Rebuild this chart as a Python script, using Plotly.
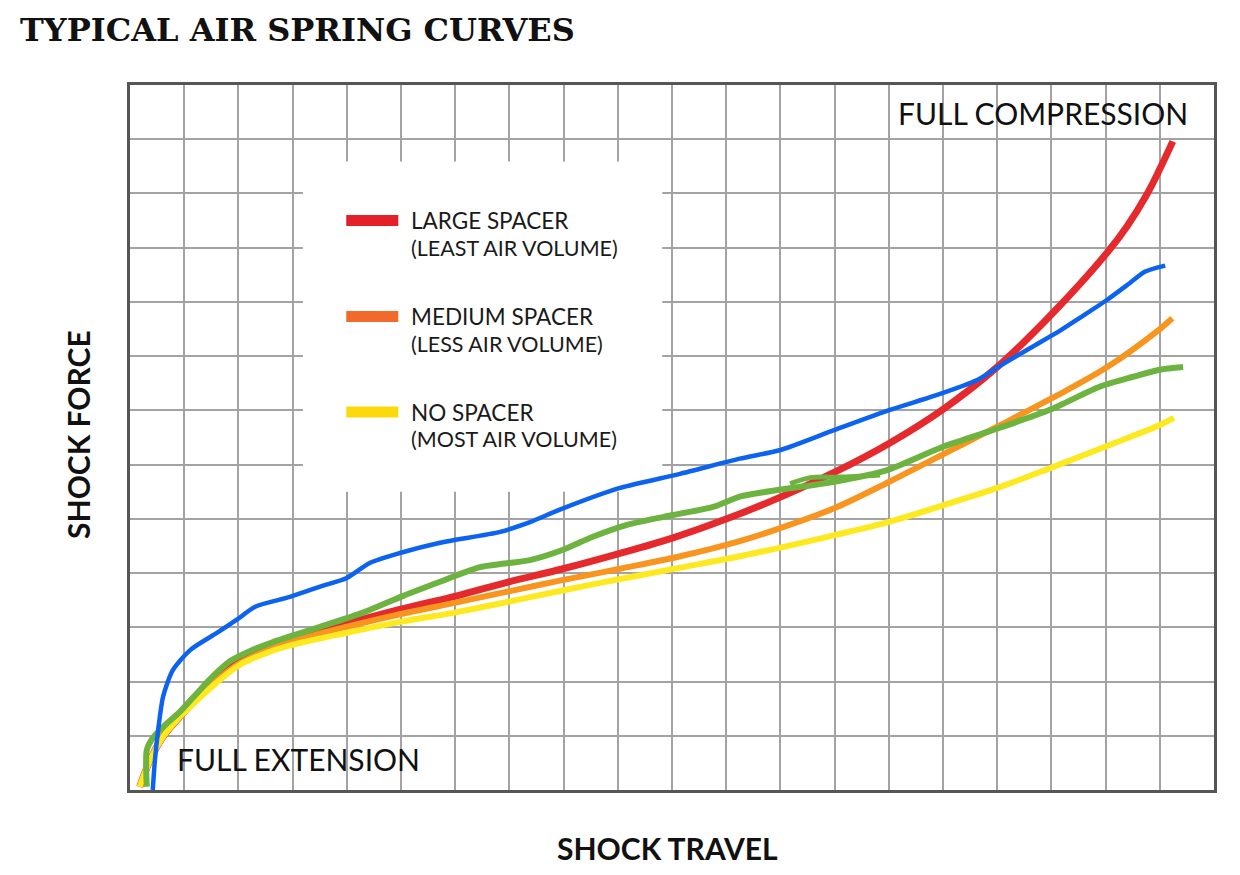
import plotly.graph_objects as go

# Data in grid units (x: shock travel 0-20, y: shock force 0-13)
red_x = [0.18, 0.37, 0.61, 0.92, 1.24, 1.61, 2.03, 2.58, 3.01, 4.00, 4.98, 6.03, 6.96, 7.99, 8.99, 10.02, 11.01, 12.0, 13.0, 14.02, 15.0, 16.0, 17.03, 18.03, 18.4, 18.76, 19.0, 19.24]
red_y = [0.06, 0.55, 0.98, 1.35, 1.70, 2.05, 2.38, 2.64, 2.80, 3.07, 3.33, 3.58, 3.83, 4.08, 4.35, 4.65, 5.00, 5.40, 5.86, 6.40, 7.02, 7.80, 8.80, 9.91, 10.40, 10.98, 11.45, 11.96]

orange_x = [0.18, 0.37, 0.61, 0.92, 1.24, 1.61, 2.03, 2.58, 3.01, 4.00, 4.98, 6.03, 6.83, 7.93, 9.04, 10.15, 11.25, 12.0, 13.0, 14.0, 15.0, 16.0, 17.0, 18.0, 19.0, 19.23]
orange_y = [0.06, 0.55, 0.98, 1.35, 1.68, 2.03, 2.34, 2.60, 2.75, 3.01, 3.24, 3.46, 3.63, 3.86, 4.08, 4.31, 4.59, 4.83, 5.20, 5.68, 6.19, 6.70, 7.22, 7.78, 8.50, 8.70]

yellow_x = [0.18, 0.37, 0.61, 0.92, 1.24, 1.61, 2.03, 2.58, 3.01, 4.00, 4.98, 6.03, 6.83, 7.93, 9.04, 10.15, 11.25, 12.0, 13.0, 14.02, 15.0, 16.0, 16.99, 17.99, 19.0, 19.26]
yellow_y = [0.06, 0.55, 0.98, 1.35, 1.66, 1.99, 2.31, 2.55, 2.68, 2.90, 3.10, 3.28, 3.44, 3.67, 3.89, 4.10, 4.31, 4.47, 4.70, 4.95, 5.25, 5.57, 5.94, 6.33, 6.73, 6.86]

green_x = [0.31, 0.31, 0.42, 0.61, 0.92, 1.24, 1.53, 1.85, 2.21, 2.64, 3.45, 4.30, 5.04, 5.72, 6.46, 7.38, 7.99, 8.54, 9.17, 10.02, 10.76, 11.25, 12.0, 12.97, 13.97, 15.0, 16.05, 16.97, 17.90, 18.51, 19.0, 19.43]
green_y = [0.06, 0.74, 0.96, 1.16, 1.44, 1.79, 2.10, 2.38, 2.56, 2.73, 2.99, 3.27, 3.58, 3.84, 4.11, 4.24, 4.43, 4.67, 4.89, 5.07, 5.22, 5.41, 5.54, 5.68, 5.90, 6.33, 6.68, 7.01, 7.44, 7.62, 7.75, 7.80]
green_extra_x = [12.18, 12.55, 13.10, 13.84]
green_extra_y = [5.65, 5.76, 5.77, 5.81]

blue_x = [0.42, 0.46, 0.52, 0.61, 0.79, 1.11, 1.61, 1.97, 2.31, 2.95, 3.51, 4.00, 4.43, 4.98, 5.72, 6.83, 7.38, 7.93, 9.04, 10.15, 11.25, 12.0, 13.0, 14.02, 14.85, 15.63, 16.05, 16.61, 17.16, 17.53, 18.03, 18.45, 18.73, 19.10]
blue_y = [0.0, 0.55, 1.11, 1.72, 2.21, 2.58, 2.90, 3.14, 3.38, 3.56, 3.75, 3.91, 4.19, 4.37, 4.56, 4.76, 4.94, 5.17, 5.57, 5.83, 6.11, 6.27, 6.64, 7.01, 7.27, 7.56, 7.82, 8.15, 8.47, 8.71, 9.04, 9.35, 9.56, 9.67]

legend_titles = ["LARGE SPACER", "MEDIUM SPACER", "NO SPACER"]
legend_subtitles = ["(LEAST AIR VOLUME)", "(LESS AIR VOLUME)", "(MOST AIR VOLUME)"]
legend_colors = ["#e4202a", "#f26a2b", "#fcd90a"]
legend_rows_y = [10.50, 8.73, 6.97]

RED = "#e52a2d"
ORANGE = "#f7951e"
YELLOW = "#fde920"
GREEN = "#6db33f"
BLUE = "#0b63f0"

fig = go.Figure()

def add_line(x, y, color, width, shape="linear", smoothing=0.8):
    line = dict(color=color, width=width, shape=shape)
    if shape == "spline":
        line["smoothing"] = smoothing
    fig.add_trace(go.Scatter(x=x, y=y, mode="lines", line=line,
                             showlegend=False, hoverinfo="skip"))

add_line(red_x, red_y, RED, 7, "spline", 1.0)
add_line(orange_x, orange_y, ORANGE, 6, "spline", 1.0)
add_line(yellow_x, yellow_y, YELLOW, 6, "spline", 1.0)
add_line(green_x, green_y, GREEN, 6, "spline", 0.7)
add_line(green_extra_x, green_extra_y, GREEN, 5, "spline", 0.7)
add_line(blue_x, blue_y, BLUE, 4.5, "spline", 0.7)

shapes = [
    # white legend box covering grid
    dict(type="rect", xref="x", yref="y", x0=3.19, x1=9.82, y0=5.50, y1=11.59,
         fillcolor="white", line=dict(width=0), layer="between"),
]
annotations = []
for t, s, c, yy in zip(legend_titles, legend_subtitles, legend_colors, legend_rows_y):
    shapes.append(dict(type="line", xref="x", yref="y", x0=3.99, x1=4.95, y0=yy, y1=yy,
                       line=dict(color=c, width=11), layer="above"))
    annotations.append(dict(x=5.15, y=yy, xref="x", yref="y", text=t, showarrow=False,
                            xanchor="left", yanchor="middle",
                            font=dict(family="Lato", size=22.5, color="#1a1a1a")))
    annotations.append(dict(x=5.15, y=yy - 0.50, xref="x", yref="y", text=s, showarrow=False,
                            xanchor="left", yanchor="middle",
                            font=dict(family="Lato", size=21.5, color="#1a1a1a")))

annotations += [
    dict(x=19.56, y=12.49, xref="x", yref="y", text="FULL COMPRESSION", showarrow=False,
         xanchor="right", yanchor="middle", font=dict(family="Lato", size=30, color="#111")),
    dict(x=0.83, y=0.57, xref="x", yref="y", text="FULL EXTENSION", showarrow=False,
         xanchor="left", yanchor="middle", font=dict(family="Lato", size=30, color="#111")),
    dict(x=0.496, y=-0.0823, xref="paper", yref="paper", text="<b>SHOCK TRAVEL</b>", showarrow=False,
         xanchor="center", yanchor="middle", font=dict(family="Lato", size=30, color="#111")),
    dict(x=-0.048, y=0.505, xref="paper", yref="paper", text="<b>SHOCK FORCE</b>", showarrow=False,
         textangle=-90, xanchor="center", yanchor="middle", font=dict(family="Lato", size=30, color="#111")),
]

fig.update_layout(
    width=1240, height=875,
    margin=dict(l=122, r=34, t=77, b=93),
    paper_bgcolor="white", plot_bgcolor="white",
    title=dict(text="<b>TYPICAL AIR SPRING CURVES</b>", x=12 / 1240, xanchor="left",
               y=1 - 22 / 875, yanchor="middle",
               font=dict(family="DejaVu Serif", size=32, color="#111")),
    shapes=shapes, annotations=annotations,
    xaxis=dict(range=[0, 20], dtick=1, tick0=0, showticklabels=False, ticks="",
               showgrid=True, gridcolor="#a3a3a3", gridwidth=1.5, zeroline=False,
               showline=True, linecolor="#555", linewidth=2.5, mirror=True, fixedrange=True),
    yaxis=dict(range=[0, 13], dtick=1, tick0=0, showticklabels=False, ticks="",
               showgrid=True, gridcolor="#a3a3a3", gridwidth=1.5, zeroline=False,
               showline=True, linecolor="#555", linewidth=2.5, mirror=True, fixedrange=True),
)

fig.write_html("out.html")
